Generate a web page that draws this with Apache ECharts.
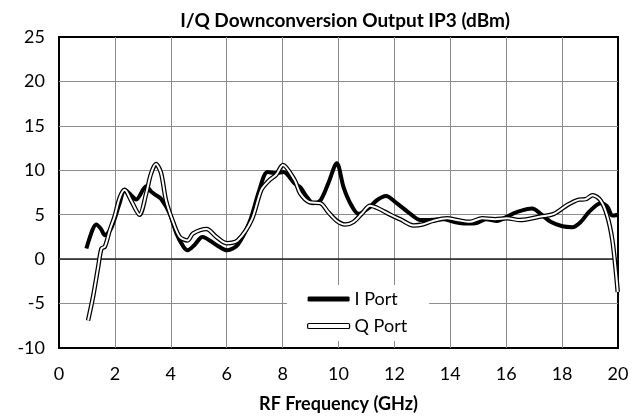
<!DOCTYPE html>
<html>
<head>
<meta charset="utf-8">
<script src="https://cdn.jsdelivr.net/npm/echarts@6/dist/echarts.min.js"></script>
<style>html,body{margin:0;padding:0;background:#fff;}#c{width:640px;height:420px;}</style>
</head>
<body>
<div id="c"></div>
<script>
const xTicks = [0, 2, 4, 6, 8, 10, 12, 14, 16, 18, 20];
const yTicks = [-10, -5, 0, 5, 10, 15, 20, 25];

const iFreq = [0.98, 1.2, 1.33, 1.5, 1.64, 1.87, 2.17, 2.35, 2.58, 2.76, 3.12, 3.3, 3.47, 3.65, 3.95, 4.2, 4.45, 4.6, 4.85, 5.13, 5.63, 6.02, 6.39, 6.82, 7.17, 7.46, 7.77, 8.03, 8.43, 8.63, 8.87, 9.1, 9.35, 9.63, 9.94, 10.18, 10.42, 10.71, 11.06, 11.36, 11.7, 12.08, 12.57, 12.93, 13.29, 13.76, 14.12, 14.57, 14.97, 15.27, 15.67, 16.03, 16.38, 16.93, 17.23, 17.59, 18.01, 18.37, 18.67, 18.96, 19.38, 19.62, 19.8, 20.0];
const iVal  = [1.2, 3.3, 3.9, 3.4, 2.7, 3.5, 6.3, 7.8, 7.2, 6.7, 8.2, 7.6, 7.2, 6.8, 5.2, 2.9, 1.4, 1.0, 1.6, 2.5, 1.6, 1.0, 1.6, 4.2, 7.8, 9.8, 9.7, 9.8, 8.5, 8.1, 7.0, 6.3, 6.6, 8.5, 10.8, 8.1, 6.3, 5.1, 5.7, 6.6, 7.1, 6.3, 5.1, 4.4, 4.4, 4.5, 4.2, 4.0, 4.1, 4.5, 4.3, 4.8, 5.3, 5.7, 5.1, 4.2, 3.7, 3.6, 4.2, 5.3, 6.3, 5.9, 4.9, 5.0];

const qFreq = [1.04, 1.22, 1.4, 1.52, 1.64, 1.82, 1.99, 2.17, 2.35, 2.58, 2.88, 3.12, 3.29, 3.47, 3.65, 3.83, 4.08, 4.32, 4.6, 4.8, 5.28, 5.63, 5.99, 6.39, 6.89, 7.24, 7.53, 7.77, 8.01, 8.43, 8.63, 8.97, 9.35, 9.63, 9.94, 10.24, 10.54, 10.83, 11.13, 11.43, 11.85, 12.2, 12.68, 13.0, 13.38, 13.88, 14.24, 14.7, 15.14, 15.6, 16.03, 16.5, 17.23, 17.71, 18.19, 18.6, 18.84, 19.09, 19.38, 19.62, 19.8, 19.93, 19.99];
const qVal  = [-6.9, -4.2, -0.9, 1.2, 1.4, 3.3, 4.8, 6.9, 7.8, 6.6, 5.0, 7.4, 9.6, 10.7, 9.7, 6.6, 4.2, 2.5, 2.1, 2.9, 3.4, 2.5, 1.8, 2.1, 4.4, 7.8, 8.9, 9.5, 10.6, 8.9, 7.4, 6.4, 6.3, 5.3, 4.3, 3.9, 4.2, 5.1, 6.0, 5.7, 5.0, 4.5, 3.8, 3.9, 4.3, 4.6, 4.4, 4.2, 4.6, 4.5, 4.6, 4.4, 4.8, 5.1, 6.1, 6.7, 6.75, 7.2, 6.6, 4.8, 2.1, -1.6, -3.7];

const iData = iFreq.map((f, k) => [f, iVal[k]]);
const qData = qFreq.map((f, k) => [f, qVal[k]]);

const FONT = 'Lato';
const chart = echarts.init(document.getElementById('c'), null, {renderer: 'canvas'});
chart.setOption({
  animation: false,
  backgroundColor: '#fff',
  textStyle: {fontFamily: FONT},
  title: {
    text: 'I/Q Downconversion Output IP3 (dBm)',
    left: 340, top: 6, textAlign: 'center',
    textStyle: {fontFamily: FONT, fontSize: 19, fontWeight: 'bold', color: '#000'}
  },
  grid: {left: 59, right: 22, top: 37, bottom: 72, show: true, borderColor: '#000', borderWidth: 2,
         backgroundColor: 'transparent', outerBoundsMode: 'none', containLabel: false},
  legend: {
    orient: 'vertical', left: 287, top: 285,
    backgroundColor: '#fff', padding: [5, 22, 6, 20], itemGap: 9,
    itemWidth: 42, itemHeight: 5,
    textStyle: {fontFamily: FONT, fontSize: 18, color: '#000'},
    data: [
      {name: 'I Port', icon: 'roundRect', itemStyle: {color: '#000', borderWidth: 0}},
      {name: 'Q Port', icon: 'roundRect', itemStyle: {color: '#fff', borderColor: '#000', borderWidth: 1.2}}
    ]
  },
  xAxis: {
    type: 'value', min: xTicks[0], max: xTicks[xTicks.length - 1], interval: 2,
    name: 'RF Frequency (GHz)', nameLocation: 'middle', nameGap: 47,
    nameTextStyle: {fontFamily: FONT, fontSize: 18, fontWeight: 'bold', color: '#000'},
    axisLine: {show: false}, axisTick: {show: false},
    axisLabel: {fontFamily: FONT, fontSize: 18, color: '#000', margin: 17},
    splitLine: {show: true, showMinLine: false, showMaxLine: false, lineStyle: {color: '#8c8c8c', width: 1}}
  },
  yAxis: {
    type: 'value', min: yTicks[0], max: yTicks[yTicks.length - 1], interval: 5,
    axisLine: {show: false}, axisTick: {show: false},
    axisLabel: {fontFamily: FONT, fontSize: 18, color: '#000', margin: 14},
    splitLine: {show: true, showMinLine: false, showMaxLine: false, lineStyle: {color: '#8c8c8c', width: 1}}
  },
  series: [
    {
      name: 'I Port', type: 'line', data: iData, smooth: 0.3, symbol: 'none',
      lineStyle: {color: '#000', width: 4}, itemStyle: {color: '#000'}, z: 3,
      markLine: {silent: true, symbol: 'none', label: {show: false},
        lineStyle: {color: '#222', width: 1.5, type: 'solid'}, data: [{yAxis: 0}], z: 1}
    },
    {
      name: 'Q Port', type: 'line', data: qData, smooth: 0.3, symbol: 'none',
      lineStyle: {color: '#000', width: 4.5}, itemStyle: {color: '#000'}, z: 4
    },
    {
      name: 'Q inner', type: 'line', data: qData, smooth: 0.3, symbol: 'none',
      lineStyle: {color: '#fff', width: 2}, itemStyle: {color: '#fff'}, z: 5
    }
  ]
});
</script>
</body>
</html>
